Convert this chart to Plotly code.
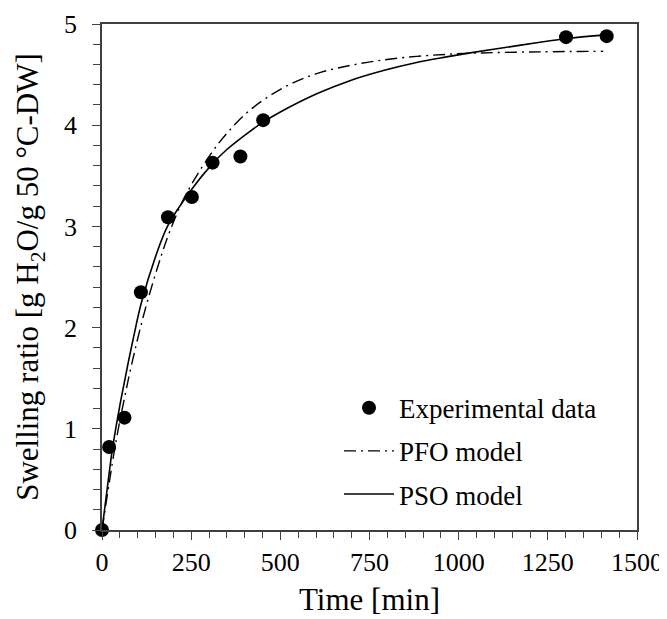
import plotly.graph_objects as go

# Experimental data
exp_t = [0, 20, 63, 109, 185, 252, 310, 388, 452, 1301, 1415]
exp_q = [0, 0.82, 1.11, 2.35, 3.09, 3.29, 3.63, 3.69, 4.05, 4.87, 4.88]

# PFO model curve
pfo_t = [0, 20, 34, 50, 64, 74, 88, 100, 125, 167, 191, 233, 300, 350, 415, 508, 602, 695, 789, 882, 966, 1041, 1228, 1405]
pfo_q = [0, 0.46, 0.77, 1.08, 1.32, 1.49, 1.71, 1.89, 2.23, 2.72, 2.96, 3.30, 3.69, 3.92, 4.15, 4.37, 4.51, 4.59, 4.645, 4.68, 4.70, 4.712, 4.725, 4.73]

# PSO model curve
pso_t = [0, 20, 30, 50, 65, 75, 90, 110, 150, 185, 250, 310, 350, 415, 452, 500, 602, 695, 789, 882, 966, 1041, 1135, 1228, 1301, 1415]
pso_q = [0, 0.56, 0.82, 1.23, 1.50, 1.68, 1.93, 2.24, 2.70, 3.01, 3.36, 3.62, 3.76, 3.94, 4.03, 4.13, 4.31, 4.44, 4.54, 4.62, 4.675, 4.72, 4.77, 4.82, 4.855, 4.895]

x_ticks = [0, 250, 500, 750, 1000, 1250, 1500]
y_ticks = [0, 1, 2, 3, 4, 5]

FONT = "Liberation Serif"
AX = "#404040"

fig = go.Figure()
fig.add_trace(go.Scatter(x=exp_t, y=exp_q, mode="markers", name="Experimental data",
                         marker=dict(color="black", size=14), cliponaxis=False,
                         legendgroup="a"))
fig.add_trace(go.Scatter(x=pfo_t, y=pfo_q, mode="lines", name="PFO model",
                         line=dict(color="black", width=1.4, dash="12px,5px,2px,5px", shape="spline"),
                         legendgroup="b"))
fig.add_trace(go.Scatter(x=pso_t, y=pso_q, mode="lines", name="PSO model",
                         line=dict(color="black", width=1.6, shape="spline"),
                         legendgroup="c"))

# page has an 8px body margin; figure sized/offset to compensate
fig.update_layout(
    width=659, height=611,
    margin=dict(l=94, r=30, t=16, b=89, autoexpand=False),
    paper_bgcolor="white", plot_bgcolor="white",
    font=dict(family=FONT, color="black", size=26),
    showlegend=True,
    legend=dict(x=0.443, y=0.289, xanchor="left", yanchor="top",
                bgcolor="rgba(0,0,0,0)", font=dict(size=27, family=FONT),
                itemwidth=50, tracegroupgap=5),
    xaxis=dict(range=[0, 1500], tickvals=x_ticks, ticktext=[str(v) for v in x_ticks],
               showgrid=False, zeroline=False, showline=True, linecolor=AX, linewidth=1.5,
               mirror=True, ticks="outside", ticklen=8, tickcolor=AX, tickwidth=1.2,
               minor=dict(dtick=50, ticks="outside", ticklen=6, tickcolor=AX, tickwidth=1.2),
               tickfont=dict(size=26, family=FONT),
               title=dict(text="Time [min]", font=dict(size=31, family=FONT), standoff=12)),
    yaxis=dict(range=[0, 5], tickvals=y_ticks, ticktext=[str(v) for v in y_ticks],
               showgrid=False, zeroline=False, showline=True, linecolor=AX, linewidth=1.5,
               mirror=True, ticks="outside", ticklen=8, tickcolor=AX, tickwidth=1.2,
               minor=dict(dtick=0.2, ticks="outside", ticklen=7, tickcolor=AX, tickwidth=1.2),
               tickfont=dict(size=26, family=FONT), ticklabelstandoff=10,
               title=dict(text="Swelling ratio [g H<sub>2</sub>O/g 50 °C-DW]",
                          font=dict(size=31, family=FONT), standoff=16)),
)

fig.write_html("out.html")
